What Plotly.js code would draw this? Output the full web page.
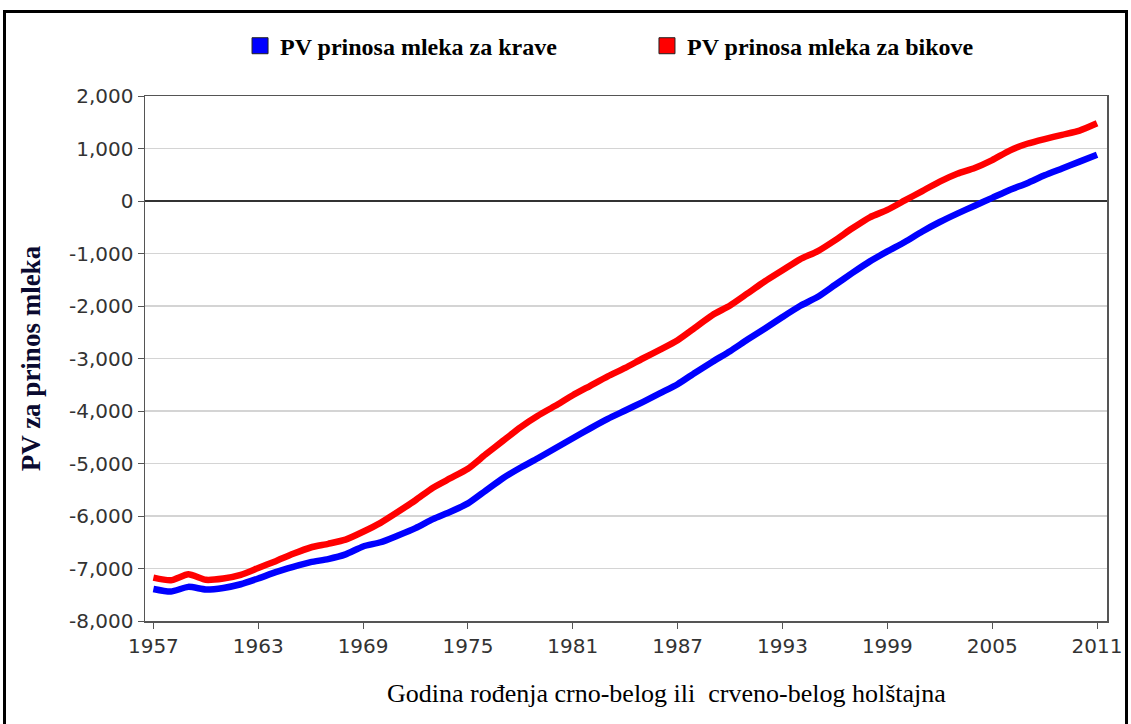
<!DOCTYPE html>
<html>
<head>
<meta charset="utf-8">
<script src="https://cdn.plot.ly/plotly-3.0.1.min.js"></script>
<style>
  html, body { margin:0; padding:0; background:#fff; }
  #wrap { position:relative; width:1131px; height:724px; overflow:hidden; }
  #chart { position:absolute; left:0; top:0; width:1131px; height:724px; }
  #frame { position:absolute; left:3px; top:10px; width:1125px; height:800px; border:3px solid #000; box-sizing:border-box; pointer-events:none; }
</style>
</head>
<body>
<div id="wrap"><div id="chart"></div><div id="frame"></div></div>
<script>
// Years of birth
const years = [1957,1958,1959,1960,1961,1962,1963,1964,1965,1966,1967,1968,1969,1970,
  1971,1972,1973,1974,1975,1976,1977,1978,1979,1980,1981,1982,1983,1984,1985,1986,
  1987,1988,1989,1990,1991,1992,1993,1994,1995,1996,1997,1998,1999,2000,2001,2002,
  2003,2004,2005,2006,2007,2008,2009,2010,2011];

// PV prinosa mleka za krave (cows)
const cows = [-7390,-7440,-7350,-7400,-7370,-7300,-7190,-7070,-6970,-6880,-6820,-6730,-6580,-6500,
  -6370,-6230,-6060,-5920,-5760,-5520,-5280,-5080,-4900,-4710,-4520,-4330,-4150,-3990,-3830,-3660,
  -3490,-3270,-3060,-2860,-2640,-2430,-2210,-2000,-1830,-1600,-1370,-1150,-960,-780,-580,-400,
  -240,-90,60,210,340,490,620,750,880];

// PV prinosa mleka za bikove (bulls)
const bulls = [-7175,-7225,-7110,-7215,-7190,-7120,-6990,-6860,-6720,-6600,-6530,-6450,-6300,-6130,
  -5920,-5700,-5460,-5280,-5100,-4830,-4570,-4310,-4090,-3900,-3700,-3520,-3340,-3180,-3000,-2830,
  -2650,-2410,-2170,-1990,-1760,-1530,-1320,-1110,-960,-750,-520,-310,-170,10,190,370,
  520,630,780,960,1090,1180,1260,1340,1480];

const seriesNames = ["PV prinosa mleka za krave", "PV prinosa mleka za bikove"];
const seriesColors = ["#0000ff", "#ff0000"];

const xTickVals = [1957,1963,1969,1975,1981,1987,1993,1999,2005,2011];
const xTickText = ["1957","1963","1969","1975","1981","1987","1993","1999","2005","2011"];
const yTickVals = [2000,1000,0,-1000,-2000,-3000,-4000,-5000,-6000,-7000,-8000];
const yTickText = ["2,000","1,000","0","-1,000","-2,000","-3,000","-4,000","-5,000","-6,000","-7,000","-8,000"];

const xTitle = 'Godina rođenja crno-belog ili\u00a0 crveno-belog holštajna';
const yTitle = 'PV za prinos mleka';

const seriesData = [cows, bulls];
const legendIds = ['legend', 'legend2'];
const traces = [];
seriesData.forEach((vals, i) => {
  traces.push({
    x: years, y: vals, type: 'scatter', mode: 'lines',
    line: {color: seriesColors[i], width: 6.5, shape: 'spline', smoothing: 0.6},
    showlegend: false, hoverinfo: 'x+y'
  });
});
// legend entries (square swatches)
seriesData.forEach((vals, i) => {
  traces.push({
    x: [null], y: [null], type: 'scatter', mode: 'markers', name: seriesNames[i],
    marker: {symbol: 'square', size: 16, color: seriesColors[i], line: {color: '#222', width: 1}},
    showlegend: true, legend: legendIds[i]
  });
});

const tickFont = {family: 'DejaVu Sans', size: 20, color: '#333'};
const legendFont = {family: 'Liberation Serif', size: 24, color: '#000', weight: 'bold'};

const layout = {
  width: 1131, height: 724,
  margin: {l: 145, r: 24, t: 96, b: 103, pad: 0},
  paper_bgcolor: '#fff', plot_bgcolor: '#fff',
  showlegend: true,
  legend: {x: 0.0988, xanchor: 'left', y: 1.095, yanchor: 'middle', font: legendFont, bgcolor: 'rgba(0,0,0,0)'},
  legend2: {x: 0.5218, xanchor: 'left', y: 1.095, yanchor: 'middle', font: legendFont, bgcolor: 'rgba(0,0,0,0)'},
  xaxis: {
    range: [1956.52, 2011.57], tickvals: xTickVals, ticktext: xTickText,
    showgrid: false, zeroline: false,
    showline: true, mirror: true, linecolor: '#555', linewidth: 1.5,
    ticks: 'outside', ticklen: 6, tickcolor: '#555', tickwidth: 1,
    tickfont: tickFont
  },
  yaxis: {
    range: [-8000, 2000], tickvals: yTickVals, ticktext: yTickText,
    showgrid: true, gridcolor: '#d4d4d4', gridwidth: 1.5,
    zeroline: true, zerolinecolor: '#333', zerolinewidth: 1.5,
    showline: true, mirror: true, linecolor: '#555', linewidth: 1.5,
    ticks: 'outside', ticklen: 6, tickcolor: '#555', tickwidth: 1,
    tickfont: tickFont,
    title: {text: yTitle, standoff: 20,
      font: {family: 'Liberation Serif', size: 27, color: '#0a0a30', weight: 'bold'}}
  },
  annotations: [{
    text: xTitle, xref: 'paper', yref: 'paper', x: 0.5426, y: 0, xanchor: 'center', yanchor: 'middle',
    yshift: -72, showarrow: false,
    font: {family: 'Liberation Serif', size: 26, color: '#000'}
  }]
};

Plotly.newPlot('chart', traces, layout, {displayModeBar: false, staticPlot: true});
</script>
</body>
</html>
